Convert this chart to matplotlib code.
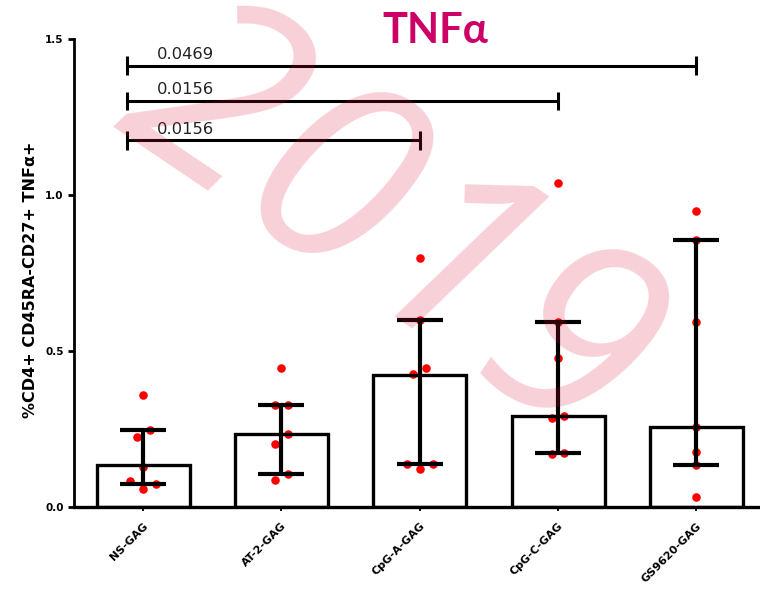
import matplotlib

matplotlib.use("Agg")
import matplotlib.pyplot as plt
import numpy as np


# Values.
GROUPS = ["NS-GAG", "AT-2-GAG", "CpG-A-GAG", "CpG-C-GAG", "GS9620-GAG"]
BAR_HEIGHTS = [0.135, 0.233, 0.424, 0.293, 0.257]
ERR_LOW = [0.073, 0.107, 0.139, 0.173, 0.136]
ERR_HIGH = [0.248, 0.328, 0.599, 0.593, 0.857]

NS_GAG = [0.360, 0.248, 0.225, 0.129, 0.083, 0.073, 0.059]
AT2_GAG = [0.447, 0.328, 0.326, 0.233, 0.203, 0.107, 0.085]
CPGA_GAG = [0.798, 0.599, 0.447, 0.426, 0.139, 0.139, 0.122]
CPGC_GAG = [1.040, 0.594, 0.479, 0.293, 0.284, 0.173, 0.169]
GS9620_GAG = [0.949, 0.857, 0.594, 0.257, 0.177, 0.136, 0.031]
POINTS = [NS_GAG, AT2_GAG, CPGA_GAG, CPGC_GAG, GS9620_GAG]

# Significance brackets: pairs of groups, p-values and bracket heights.
PAIRS = [(0, 4), (0, 3), (0, 2)]
P_VALUES = ["0.0469", "0.0156", "0.0156"]
BRACKET_Y = [1.414, 1.301, 1.175]

Y_TICKS = [0.0, 0.5, 1.0, 1.5]
Y_TICK_LABELS = ["0.0", "0.5", "1.0", "1.5"]


def swarm_offsets(values, row_height=0.035, step=0.092):
    """Spread points that sit at about the same height side by side."""
    values = np.asarray(values)
    order = np.argsort(values, kind="stable")
    sorted_vals = values[order]
    offsets = np.zeros(len(values))
    start = 0
    for i in range(1, len(sorted_vals) + 1):
        if i == len(sorted_vals) or sorted_vals[i] - sorted_vals[start] > row_height:
            n = i - start
            if n % 2:
                slots = [0] + [s for k in range(1, n // 2 + 1) for s in (k, -k)]
            else:
                slots = [s for k in range(1, n // 2 + 1) for s in (-(k - 0.5), k - 0.5)]
            for j, idx in enumerate(range(start, i)):
                offsets[order[idx]] = slots[j] * step
            start = i
    return offsets


fig = plt.figure(figsize=(7.6, 5.99), dpi=100)
ax = fig.add_axes([0.0974, 0.1536, 0.9026, 0.7813])

x = np.arange(len(GROUPS))
heights = np.array(BAR_HEIGHTS)

# Dots first, so the bar outlines and error bars sit on top of them.
for xi, vals in zip(x, POINTS):
    ax.scatter(xi + swarm_offsets(vals), vals, s=38, color="#FF0000", linewidths=0, zorder=2, clip_on=False)

ax.bar(x, heights, width=0.673, fill=False, edgecolor="black", linewidth=2.4, zorder=3)
ax.errorbar(
    x, heights,
    yerr=[heights - np.array(ERR_LOW), np.array(ERR_HIGH) - heights],
    fmt="none", ecolor="black", elinewidth=3, capsize=16.5, capthick=3, zorder=4,
)

# Brackets with p-values.
cap = 0.03
for (a, b), p, y in zip(PAIRS, P_VALUES, BRACKET_Y):
    left = a - 0.12
    ax.plot([left, b], [y, y], color="black", lw=2.2, solid_capstyle="butt", zorder=4)
    ax.vlines([left, b], y - cap, y + cap, color="black", lw=2.2, zorder=4)
    ax.text(left + 0.22, y + 0.012, p, ha="left", va="bottom", fontsize=11.8,
            family="DejaVu Sans", color="#222222")

ax.set_xlim(-0.5, 4.46)
ax.set_ylim(0, 1.5)
ax.spines["top"].set_visible(False)
ax.spines["right"].set_visible(False)
ax.spines["left"].set_linewidth(2)
ax.spines["bottom"].set_linewidth(2.4)

ax.set_yticks(Y_TICKS, Y_TICK_LABELS)
ax.tick_params(axis="y", length=4.5, width=2, pad=3, labelsize=7.5)
ax.set_xticks(x, GROUPS)
ax.tick_params(axis="x", length=3, width=1.3, pad=7, labelsize=8)
for label in ax.get_yticklabels():
    label.set_fontweight("bold")
for label in ax.get_xticklabels():
    label.set_fontweight("bold")
    label.set_rotation(45)
    label.set_ha("right")
    label.set_va("top")
    label.set_rotation_mode("anchor")

fig.text(31 / 760, 1 - 280 / 599, "%CD4+ CD45RA-CD27+ TNF\u03b1+", rotation=90,
         ha="center", va="center", fontsize=11.5, fontweight="bold", family="DejaVu Sans")

fig.text(0.573, 0.929, "TNF\u03b1", ha="center", va="baseline", fontsize=30,
         fontweight="bold", family=["Lato", "DejaVu Sans"], color="#CC0066")

# Pink watermark over the whole plot.
fig.text(0.511, 0.614, "2019", ha="center", va="center", fontsize=188,
         family="Open Sans", style="italic", color="#DC143C", alpha=0.2,
         rotation=-34, rotation_mode="anchor", zorder=10)

fig.savefig("out.png", dpi=100)
